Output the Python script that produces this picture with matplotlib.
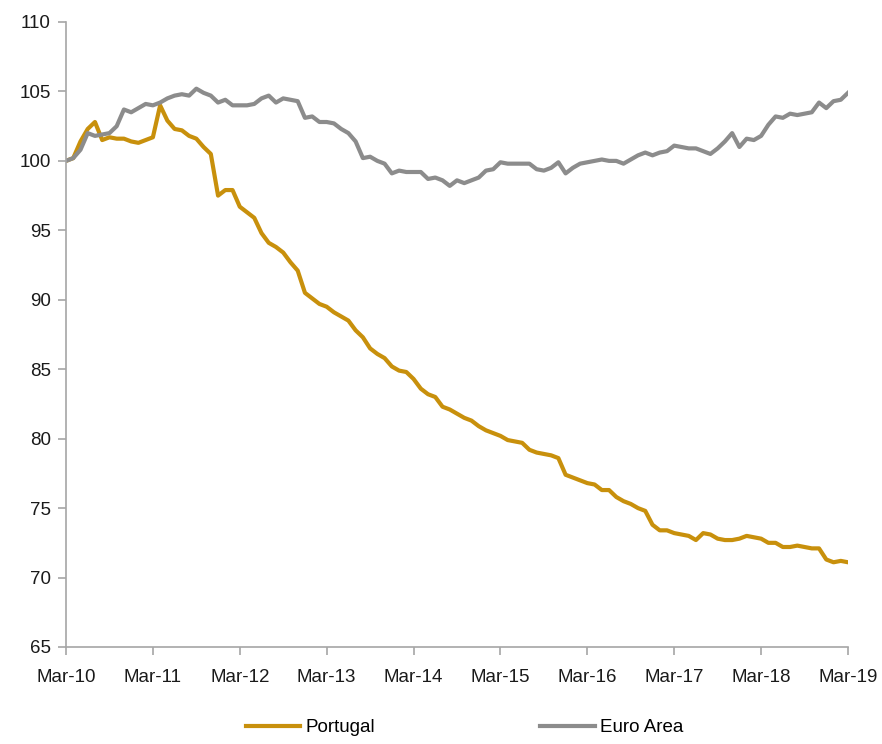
import matplotlib
matplotlib.use("Agg")
import matplotlib.pyplot as plt
from matplotlib.lines import Line2D
from matplotlib import font_manager

fams = [f.name for f in font_manager.fontManager.ttflist]
family = ['Liberation Sans Narrow', 'DejaVu Sans'] if 'Liberation Sans Narrow' in fams else ['Liberation Sans', 'DejaVu Sans']
plt.rcParams['font.family'] = family

tick_labels = ["Mar-10", "Mar-11", "Mar-12", "Mar-13", "Mar-14", "Mar-15",
               "Mar-16", "Mar-17", "Mar-18", "Mar-19"]

portugal = [100.0, 100.2, 101.4, 102.3, 102.8, 101.5, 101.7, 101.6, 101.6, 101.4,
            101.3, 101.5, 101.7, 104.0, 102.9, 102.3, 102.2, 101.8, 101.6, 101.0,
            100.5, 97.5, 97.9, 97.9, 96.7, 96.3, 95.9, 94.8, 94.1, 93.8,
            93.4, 92.7, 92.1, 90.5, 90.1, 89.7, 89.5, 89.1, 88.8, 88.5,
            87.8, 87.3, 86.5, 86.1, 85.8, 85.2, 84.9, 84.8, 84.3, 83.6,
            83.2, 83.0, 82.3, 82.1, 81.8, 81.5, 81.3, 80.9, 80.6, 80.4,
            80.2, 79.9, 79.8, 79.7, 79.2, 79.0, 78.9, 78.8, 78.6, 77.4,
            77.2, 77.0, 76.8, 76.7, 76.3, 76.3, 75.8, 75.5, 75.3, 75.0,
            74.8, 73.8, 73.4, 73.4, 73.2, 73.1, 73.0, 72.7, 73.2, 73.1,
            72.8, 72.7, 72.7, 72.8, 73.0, 72.9, 72.8, 72.5, 72.5, 72.2,
            72.2, 72.3, 72.2, 72.1, 72.1, 71.3, 71.1, 71.2, 71.1]

euro_area = [100.0, 100.2, 100.8, 102.0, 101.8, 101.9, 102.0, 102.5, 103.7, 103.5,
             103.8, 104.1, 104.0, 104.2, 104.5, 104.7, 104.8, 104.7, 105.2, 104.9,
             104.7, 104.2, 104.4, 104.0, 104.0, 104.0, 104.1, 104.5, 104.7, 104.2,
             104.5, 104.4, 104.3, 103.1, 103.2, 102.8, 102.8, 102.7, 102.3, 102.0,
             101.4, 100.2, 100.3, 100.0, 99.8, 99.1, 99.3, 99.2, 99.2, 99.2,
             98.7, 98.8, 98.6, 98.2, 98.6, 98.4, 98.6, 98.8, 99.3, 99.4,
             99.9, 99.8, 99.8, 99.8, 99.8, 99.4, 99.3, 99.5, 99.9, 99.1,
             99.5, 99.8, 99.9, 100.0, 100.1, 100.0, 100.0, 99.8, 100.1, 100.4,
             100.6, 100.4, 100.6, 100.7, 101.1, 101.0, 100.9, 100.9, 100.7, 100.5,
             100.9, 101.4, 102.0, 101.0, 101.6, 101.5, 101.8, 102.6, 103.2, 103.1,
             103.4, 103.3, 103.4, 103.5, 104.2, 103.8, 104.3, 104.4, 104.9]

months = list(range(len(portugal)))

fig = plt.figure(figsize=(8.82, 7.44), dpi=100)
ax = fig.add_axes([66/882, 97/744, 782/882, 625/744])

c_pt = '#C8900C'
c_ea = '#8C8C8C'
ax.plot(months, portugal, color=c_pt, lw=3.0, solid_joinstyle='round')
ax.plot(months, euro_area, color=c_ea, lw=3.0, solid_joinstyle='round')

ax.set_xlim(0, 108)
ax.set_ylim(65, 110)
ax.set_yticks(range(65, 111, 5))
ax.set_xticks(range(0, 109, 12))
ax.set_xticklabels(tick_labels)

for s in ['top', 'right']:
    ax.spines[s].set_visible(False)
for s in ['left', 'bottom']:
    ax.spines[s].set_color('#A6A6A6')
    ax.spines[s].set_linewidth(1.2)
ax.tick_params(axis='both', colors='#A6A6A6', labelcolor='#1a1a1a', labelsize=13.5,
               length=6, width=1.2, direction='out')
ax.tick_params(axis='x', pad=10)
ax.tick_params(axis='y', pad=5)

handles = [Line2D([], [], color=c_pt, lw=3), Line2D([], [], color=c_ea, lw=3)]
fig.legend(handles, ['Portugal', 'Euro Area'], loc='center', bbox_to_anchor=(0.527, 0.022),
           ncol=2, frameon=False, fontsize=13.5, handlelength=2.9, handletextpad=0.3,
           columnspacing=8.8, borderpad=0.1)

fig.savefig('out.png', dpi=100)
